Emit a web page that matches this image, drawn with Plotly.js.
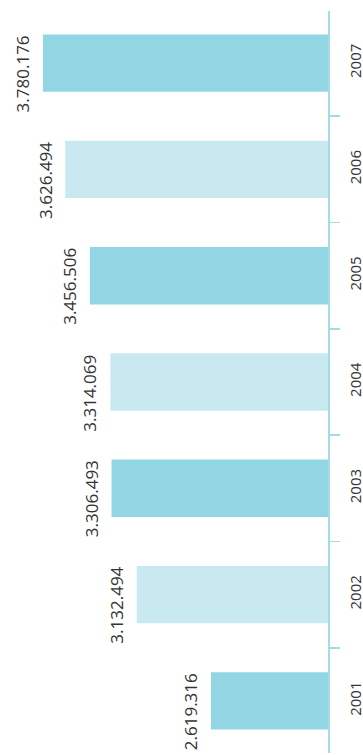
<!DOCTYPE html>
<html>
<head>
<meta charset="utf-8">
<script src="https://cdn.plot.ly/plotly-3.0.1.min.js"></script>
<style>
html,body{margin:0;padding:0;background:#fff;}
#chart{width:363px;height:755px;}
</style>
</head>
<body>
<div id="chart"></div>
<script>
// Data
const years = ["2001", "2002", "2003", "2004", "2005", "2006", "2007"];
const values = [2619316, 3132494, 3306493, 3314069, 3456506, 3626494, 3780176];
const valueLabels = ["2.619.316", "3.132.494", "3.306.493", "3.314.069", "3.456.506", "3.626.494", "3.780.176"];

// Styles
const DARK = "#92d6e3";
const LIGHT = "#c9e9f0";
const AXIS = "#a3dbe7";
const TEXT = "#333333";
const barColors = years.map((_, i) => (i % 2 === 0 ? DARK : LIGHT));
const BAR_GAP = 0.46;

const trace = {
  type: "bar",
  orientation: "h",
  y: years,
  x: values,
  marker: { color: barColors, line: { width: 0 } },
  hoverinfo: "none"
};

const annotations = years.map((yr, i) => ({
  xref: "x",
  yref: "y",
  x: values[i],
  y: i + (1 - BAR_GAP) / 2,
  text: valueLabels[i],
  textangle: -90,
  showarrow: false,
  xanchor: "right",
  yanchor: "top",
  xshift: -7,
  yshift: 1,
  font: { family: "Open Sans, sans-serif", size: 17, color: TEXT }
}));

const layout = {
  width: 363,
  height: 755,
  margin: { l: 0, r: 35, t: 11, b: 2, pad: 0 },
  paper_bgcolor: "#ffffff",
  plot_bgcolor: "#ffffff",
  showlegend: false,
  bargap: BAR_GAP,
  xaxis: {
    range: [4077300, 1810856],
    showticklabels: false,
    showgrid: false,
    zeroline: false,
    showline: false,
    ticks: "",
    fixedrange: true
  },
  yaxis: {
    type: "category",
    range: [-0.49, 6.49],
    side: "right",
    showline: true,
    linecolor: AXIS,
    linewidth: 1.5,
    ticks: "outside",
    tickson: "boundaries",
    ticklen: 10,
    tickcolor: AXIS,
    tickwidth: 1.5,
    tickangle: -90,
    ticklabelstandoff: 13,
    showgrid: false,
    zeroline: false,
    tickfont: { family: "Open Sans, sans-serif", size: 15, color: TEXT },
    fixedrange: true
  },
  annotations: annotations
};

Plotly.newPlot("chart", [trace], layout, { displayModeBar: false, staticPlot: true });
</script>
</body>
</html>
